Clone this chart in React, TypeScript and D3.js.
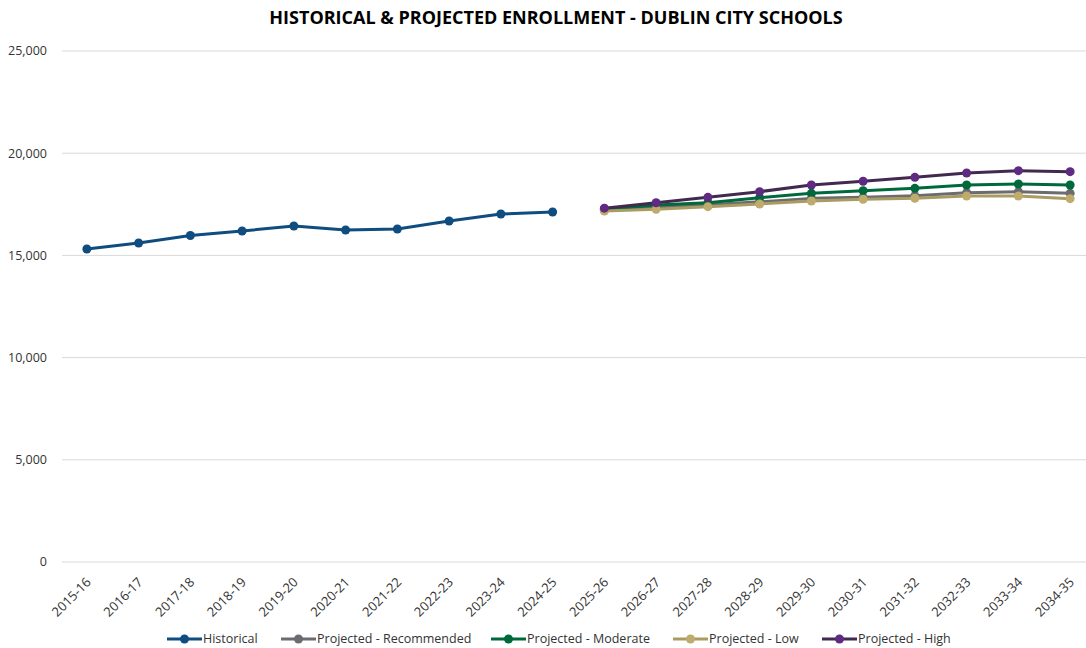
import React from 'react'
import * as d3 from 'd3'

const width = 1086
const height = 648

const years = [
  '2015-16', '2016-17', '2017-18', '2018-19', '2019-20', '2020-21', '2021-22', '2022-23', '2023-24', '2024-25',
  '2025-26', '2026-27', '2027-28', '2028-29', '2029-30', '2030-31', '2031-32', '2032-33', '2033-34', '2034-35',
]
const projYears = years.slice(10)

const historical = [15313, 15607, 15973, 16194, 16438, 16243, 16292, 16683, 17025, 17123]
const recommended = [17200, 17370, 17480, 17620, 17790, 17840, 17920, 18066, 18117, 18036]
const moderate = [17250, 17466, 17578, 17823, 18036, 18166, 18280, 18444, 18493, 18444]
const low = [17172, 17255, 17383, 17515, 17661, 17745, 17794, 17906, 17906, 17775]
const high = [17310, 17578, 17842, 18117, 18444, 18625, 18820, 19031, 19145, 19096]

const yTicks = [0, 5000, 10000, 15000, 20000, 25000]

const series = [
  { name: 'Historical', cats: years.slice(0, 10), values: historical, line: '#0f4c7f', dot: '#0f4c7f' },
  { name: 'Projected - Recommended', cats: projYears, values: recommended, line: '#6b6b70', dot: '#6b6b70' },
  { name: 'Projected - Moderate', cats: projYears, values: moderate, line: '#00693c', dot: '#00693c' },
  { name: 'Projected - Low', cats: projYears, values: low, line: '#a99b62', dot: '#bfab6c' },
  { name: 'Projected - High', cats: projYears, values: high, line: '#41294f', dot: '#5e2a82' },
]
// legend x positions (icon start)
const legendX = [167, 281, 491, 673, 822]

const font = "'Open Sans', sans-serif"

export default function App() {
  const x = d3.scalePoint<string>().domain(years).range([61, 1096]).padding(0.5)
  const y = d3.scaleLinear().domain([0, 25000]).range([562, 51])

  return (
    <svg width={width} height={height} style={{ display: 'block', position: 'absolute', left: 0, top: 0 }} fontFamily={font}>
      <rect width={width} height={height} fill="#fff" />
      <text x={556} y={24} textAnchor="middle" fontSize={18} fontWeight="bold" fill="#000">
        HISTORICAL &amp; PROJECTED ENROLLMENT - DUBLIN CITY SCHOOLS
      </text>
      {yTicks.map(t => (
        <g key={t}>
          <line x1={62} x2={1086} y1={y(t)} y2={y(t)} stroke="#d9d9d9" strokeWidth={1} />
          <text x={47} y={y(t)} dy="0.35em" textAnchor="end" fontSize={12.5} fill="#333">
            {d3.format(',')(t)}
          </text>
        </g>
      ))}
      {years.map(c => (
        <text key={c} transform={`translate(${x(c)! + 5},${583}) rotate(-45)`} textAnchor="end" fontSize={13} fill="#333">
          {c}
        </text>
      ))}
      {series.map(s => {
        const pts = s.values.map((v, i) => [x(s.cats[i])!, y(v)] as [number, number])
        return (
          <g key={s.name}>
            <path d={d3.line()(pts) || ''} fill="none" stroke={s.line} strokeWidth={3} strokeLinejoin="round" />
            {pts.map((p, i) => (
              <circle key={i} cx={p[0]} cy={p[1]} r={4.5} fill={s.dot} />
            ))}
          </g>
        )
      })}
      {series.map((s, i) => (
        <g key={s.name} transform={`translate(${legendX[i]},639)`}>
          <line x1={0} x2={35} stroke={s.line} strokeWidth={3} />
          <circle cx={17.5} cy={0} r={4.5} fill={s.dot} />
          <text x={36} dy="0.35em" fontSize={12.5} fill="#333">{s.name}</text>
        </g>
      ))}
    </svg>
  )
}
